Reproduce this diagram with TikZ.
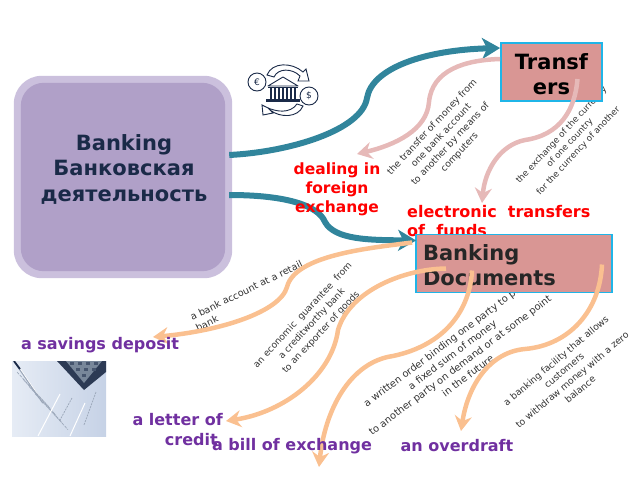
\documentclass[tikz,border=0pt]{standalone}
\usepackage{fontspec}
\setmainfont{DejaVu Sans}
\usetikzlibrary{arrows.meta,calc}
\definecolor{teal1}{HTML}{31859C}
\definecolor{pinkl}{HTML}{E6B9B8}
\definecolor{orangel}{HTML}{FAC090}
\definecolor{boxf}{HTML}{D99694}
\definecolor{boxb}{HTML}{1FB5E8}
\definecolor{purp}{HTML}{7030A0}
\definecolor{navy1}{HTML}{1A2A48}
\definecolor{bankout}{HTML}{CBC0DD}
\definecolor{bankin}{HTML}{B0A0C8}
\definecolor{calcd}{HTML}{2C3A54}
\definecolor{calcm}{HTML}{78879A}
\definecolor{calck}{HTML}{46556E}
\definecolor{phl}{HTML}{E6ECF5}
\definecolor{phr}{HTML}{C6D2E6}
\definecolor{phtxt}{HTML}{9AA6B8}
\tikzset{
 x=1pt,y=-1pt,
 note/.style={font=\fontsize{9.3}{12.5}\selectfont,align=center,text=black!80,inner sep=0pt},
 redl/.style={font=\bfseries\fontsize{16}{19}\selectfont,text=red,inner sep=0pt},
 purl/.style={font=\bfseries\fontsize{16}{20}\selectfont,text=purp,inner sep=0pt},
 boxn/.style={draw=boxb,line width=1.8pt,fill=boxf,inner sep=0pt,minimum height=58pt},
 tealc/.style={draw=teal1,line width=6pt,-{Stealth[length=18pt,width=21pt,inset=5pt]}},
 pinkc/.style={draw=pinkl,line width=4.5pt,-{Stealth[length=15pt,width=17pt,inset=5pt]}},
 orc/.style={draw=orangel,line width=4.5pt,-{Stealth[length=15pt,width=17pt,inset=5pt]}},
 icon/.style={draw=navy1,line width=0.9pt,fill=white},
}
\begin{document}
\begin{tikzpicture}
\useasboundingbox (0,0) rectangle (640,480);
% rotated notes
\node[note,rotate=47] (n1) at (446,140) {the transfer of money from\\one bank account\\to another by means of\\computers};
\node[note,rotate=47,font=\fontsize{8.7}{11.5}\selectfont] (n2) at (570,143) {the exchange of the currency\\of one country\\for the currency of another};
\node[note,rotate=26,align=left,font=\fontsize{9.6}{12.5}\selectfont] (n3) at (249,296) {a bank account at a retail\\bank};
\node[note,rotate=47,font=\fontsize{9.2}{12.5}\selectfont] (n4) at (312,324) {an economic \ guarantee \ from\\a creditworthy bank\\to an exporter of goods};
\node[note,rotate=37,font=\fontsize{9.9}{13}\selectfont] (n5) at (456,360) {a written order binding one party to pay\\a fixed sum of money\\to another party on demand or at some point\\in the future};
\node[note,rotate=40,font=\fontsize{9.3}{12.5}\selectfont] (n6) at (568,375) {a banking facility that allows\\customers\\to withdraw money with a zero\\balance};
% red text under boxes
\node[redl,anchor=north west,align=left] (ef) at (407,205) {electronic \ transfers\\of \ funds};
% main box
\node[draw=none,fill=none,minimum width=218pt,minimum height=202pt,inner sep=0pt] (bank) at (123,177) {};
\fill[rounded corners=28pt,fill=bankout] (bank.south west) rectangle (bank.north east);
\fill[rounded corners=23pt,fill=bankin] ($(bank.south west)+(7,-7)$) rectangle ($(bank.north east)+(-7,7)$);
\node[font=\bfseries\fontsize{21}{25.5}\selectfont,text=navy1,align=center,inner sep=0pt] (banktxt) at (124,169) {Banking\\Банковская\\деятельность};
% boxes
\node[boxn,minimum width=101pt,font=\bfseries\fontsize{21}{25}\selectfont] (tr) at (551.5,72) {\parbox{101pt}{\centering\vspace*{4pt}Transf\\ers}};
\node[boxn,minimum width=196pt,anchor=center,font=\bfseries\fontsize{21}{25}\selectfont,text=black!85] (bd) at (514,263.5) {\hspace*{-42pt}\parbox{140pt}{\vspace*{4pt}Banking\\Documents}};
% icon
\begin{scope}
 \draw[icon] (257,82) circle (9pt);
 \node[font=\fontsize{9}{9}\selectfont,inner sep=0pt,text=navy1] (eur) at (257,82) {€};
 \draw[icon] (309,96) circle (9pt);
 \node[font=\fontsize{9}{9}\selectfont,inner sep=0pt,text=navy1] (usd) at (309,96) {\$};
 \draw[icon] (267,75) .. controls (272,62) and (292,62) .. (303,72) -- (306,69) -- (309,81) -- (298,81) -- (300,76) .. controls (292,68) and (278,68) .. (274,77) -- cycle;
 \draw[icon] (303,106) .. controls (298,118) and (280,118) .. (270,110) -- (273,113) -- (263,115) -- (262,105) -- (266,107) .. controls (276,112) and (290,114) .. (297,104) -- cycle;
 \draw[icon,line join=round] (268,86) -- (283,77) -- (298,86) -- cycle;
 \foreach \xx in {271,275,279,283,287,291,295} \draw[navy1,line width=1.2pt] (\xx,87) -- (\xx,99);
 \fill[navy1] (268,86.5) rectangle (298,88);
 \fill[navy1] (266,99) rectangle (300,102);
\end{scope}
% photo
\begin{scope}
 \fill[left color=phl,right color=phr] (12,361) rectangle (106,436);
 \clip (12,361) rectangle (106,436);
 \fill[calcd] (57,361) -- (106,361) -- (106,372) -- (84,390) -- cycle;
 \fill[calcm] (66,361) -- (102,361) -- (84,383) -- cycle;
 \foreach \a/\b in {70/362,78/362,86/362,94/362,76/368,84/368,92/368,82/374}
   \fill[calck] (\a,\b) rectangle ++(4,3);
 \draw[phtxt,line width=1.6pt] (14,361) -- (43,403);
 \draw[white,line width=.7pt] (15,361) -- (43,402);
 \draw[navy1,line width=1.8pt] (14,361) -- (20,369);
 \foreach \o in {0,6,12,18} \draw[phtxt,dash pattern=on 3pt off 1pt,line width=.6pt] (17+\o,372+\o*1.2) -- (50+\o,408+\o*1.2);
 \draw[white,line width=1pt] (60,394) -- (38,436);
 \draw[white,line width=1pt] (85,403) -- (70,436);
 \draw[phtxt,dash pattern=on 2pt off 1pt,line width=.7pt] (72,398) -- (60,420);
 \draw[phtxt,dash pattern=on 2pt off 1pt,line width=.7pt] (96,392) -- (84,425);
\end{scope}
% connector end points
\coordinate (pf) at (357,154);
\coordinate (pe) at (482,203);
\coordinate (os) at (153,337);
\coordinate (ol) at (226,421);
\coordinate (ob) at (319,467);
\coordinate (oo) at (461,431);
% connectors
\draw[tealc] ($(bank.east)+(-3,-22)$) .. controls (290,152) and (362,130) .. (367,98) .. controls (372,68) and (425,50) .. ($(tr.west)+(0,-24)$);
\draw[tealc] ($(bank.east)+(-3,18)$) .. controls (285,195) and (318,205) .. (325,222) .. controls (335,240) and (370,240) .. ($(bd.west)+(1,-23)$);
\draw[pinkc] ($(tr.west)+(0,-13)$) .. controls (465,60) and (432,70) .. (429,102) .. controls (427,130) and (395,145) .. (pf);
\draw[pinkc] ($(tr.center)+(26,7)$) .. controls (575,110) and (560,135) .. (525,140) .. controls (500,145) and (485,170) .. (pe);
\draw[orc] ($(bd.west)+(-3,-21)$) .. controls (370,248) and (295,255) .. (287,287) .. controls (280,312) and (220,331) .. (os);
\draw[orc] ($(bd.center)+(-68,5)$) .. controls (405,269) and (350,290) .. (338,330) .. controls (332,375) and (285,412) .. (ol);
\draw[orc] ($(bd.center)+(-42,7)$) .. controls (470,310) and (445,345) .. (393,356) .. controls (350,362) and (325,410) .. (ob);
\draw[orc] ($(bd.center)+(88,1)$) .. controls (600,310) and (570,345) .. (525,349) .. controls (490,352) and (468,385) .. (oo);
% labels
\node[redl,align=center,font=\bfseries\fontsize{15.5}{19}\selectfont] (df) at (337,189) {dealing in\\foreign\\exchange};
\node[purl] (sd) at (100,345) {a savings deposit};
\node[purl,align=right,anchor=east] (lc) at (223,430) {a letter of\\credit\hspace*{5pt}};
\node[purl] (be) at (292,446) {a bill of exchange};
\node[purl] (ov) at (457,446) {an overdraft};
\end{tikzpicture}
\end{document}
